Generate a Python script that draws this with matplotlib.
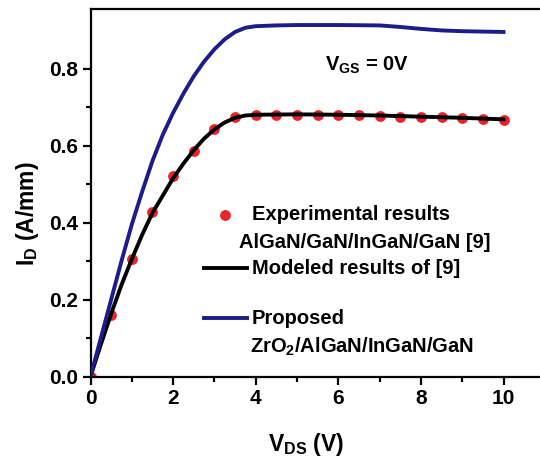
import matplotlib
matplotlib.use("Agg")
import matplotlib.pyplot as plt
from matplotlib.lines import Line2D

plt.rcParams['font.family'] = ['Liberation Sans', 'DejaVu Sans']
plt.rcParams['font.weight'] = 'bold'
plt.rcParams['mathtext.fontset'] = 'custom'
plt.rcParams['mathtext.rm'] = 'Liberation Sans:bold'
plt.rcParams['mathtext.bf'] = 'Liberation Sans:bold'
plt.rcParams['mathtext.it'] = 'Liberation Sans:bold'

# Experimental results AlGaN/GaN/InGaN/GaN [9]
exp_vds = [0, 0.5, 1.0, 1.5, 2.0, 2.5, 3.0, 3.5, 4.0, 4.5, 5.0, 5.5, 6.0, 6.5,
           7.0, 7.5, 8.0, 8.5, 9.0, 9.5, 10.0]
exp_id = [0, 0.16, 0.305, 0.428, 0.52, 0.586, 0.643, 0.673, 0.68, 0.68, 0.68,
          0.68, 0.68, 0.679, 0.677, 0.674, 0.675, 0.674, 0.672, 0.67, 0.667]

# Modeled results of [9]
mod_vds = [0, 0.25, 0.5, 0.75, 1.0, 1.25, 1.5, 1.75, 2.0, 2.25, 2.5, 2.75, 3.0,
           3.25, 3.5, 3.75, 4.0, 5.0, 6.0, 7.0, 8.0, 9.0, 10.0]
mod_id = [0, 0.083, 0.163, 0.238, 0.305, 0.368, 0.425, 0.47, 0.515, 0.553,
          0.588, 0.618, 0.642, 0.66, 0.672, 0.678, 0.68, 0.681, 0.68, 0.678,
          0.675, 0.672, 0.668]

# Proposed ZrO2/AlGaN/InGaN/GaN
prop_vds = [0, 0.25, 0.5, 0.75, 1.0, 1.25, 1.5, 1.75, 2.0, 2.25, 2.5, 2.75, 3.0,
            3.25, 3.5, 3.75, 4.0, 4.5, 5.0, 6.0, 7.0, 7.5, 8.0, 8.5, 9.0, 10.0]
prop_id = [0, 0.1, 0.2, 0.3, 0.395, 0.48, 0.56, 0.628, 0.685, 0.735, 0.78,
           0.818, 0.85, 0.876, 0.895, 0.906, 0.91, 0.912, 0.913, 0.913, 0.912,
           0.908, 0.903, 0.899, 0.897, 0.895]

xticks = [0, 2, 4, 6, 8, 10]
yticks = [0.0, 0.2, 0.4, 0.6, 0.8]

red = '#e8262a'
navy = '#1c1c8a'

fig = plt.figure(figsize=(5.4, 4.57), dpi=100)
ax = fig.add_axes([0.1676, 0.1761, 0.8413, 0.8045])

ax.plot(exp_vds, exp_id, 'o', color=red, markersize=7.8, markeredgewidth=0, zorder=2)
ax.plot(mod_vds, mod_id, '-', color='black', lw=2.8, zorder=3)
ax.plot(prop_vds, prop_id, '-', color=navy, lw=2.8, zorder=3)

ax.set_xlim(0, 11)
ax.set_ylim(0, 0.955)
ax.set_xticks(xticks)
ax.set_xticklabels([str(t) for t in xticks])
ax.set_yticks(yticks)
ax.set_yticklabels([f'{t:.1f}' for t in yticks])
ax.set_xticks([1, 3, 5, 7, 9], minor=True)
ax.set_yticks([0.1, 0.3, 0.5, 0.7], minor=True)
ax.tick_params(which='major', direction='out', length=6, width=1.6, labelsize=15, pad=3)
ax.tick_params(which='minor', direction='out', length=3.5, width=1.6)
for lab in ax.get_xticklabels() + ax.get_yticklabels():
    lab.set_fontweight('bold')
for s in ax.spines.values():
    s.set_linewidth(1.6)

ax.set_xlabel(r'$\mathregular{V_{DS}}$ (V)', fontsize=16.5, fontweight='bold')
ax.set_ylabel(r'$\mathregular{I_{D}}$ (A/mm)', fontsize=16.5, fontweight='bold')
ax.xaxis.set_label_coords((306 - 90.5) / 454.3, -0.148)
ax.yaxis.set_label_coords(-0.108, (376.5 - 214) / 367.6)

ax.text(5.68, 0.795, r'$\mathregular{V_{GS}}$ = 0V', fontsize=14.5, fontweight='bold')

# legend (drawn in figure pixel fractions)
W, H = 540.0, 457.0
def fx(px):
    return px / W
def fy(py):
    return 1 - py / H

fs = 14.5
fig.add_artist(Line2D([fx(225)], [fy(215)], marker='o', color=red, markersize=7.8,
                      markeredgewidth=0, linestyle='none'))
fig.text(fx(252), fy(215), 'Experimental results', fontsize=fs, fontweight='bold', va='center')
fig.text(fx(239), fy(243), 'AlGaN/GaN/InGaN/GaN [9]', fontsize=fs, fontweight='bold', va='center')
fig.add_artist(Line2D([fx(204), fx(247)], [fy(268), fy(268)], color='black', lw=2.8))
fig.text(fx(252), fy(268), 'Modeled results of [9]', fontsize=fs, fontweight='bold', va='center')
fig.add_artist(Line2D([fx(204), fx(247)], [fy(318), fy(318)], color=navy, lw=2.8))
fig.text(fx(252), fy(318), 'Proposed', fontsize=fs, fontweight='bold', va='center')
fig.text(fx(250), fy(347), r'ZrO$\mathregular{_2}$/AlGaN/InGaN/GaN', fontsize=fs,
         fontweight='bold', va='center')

fig.savefig('out.png', dpi=100)
